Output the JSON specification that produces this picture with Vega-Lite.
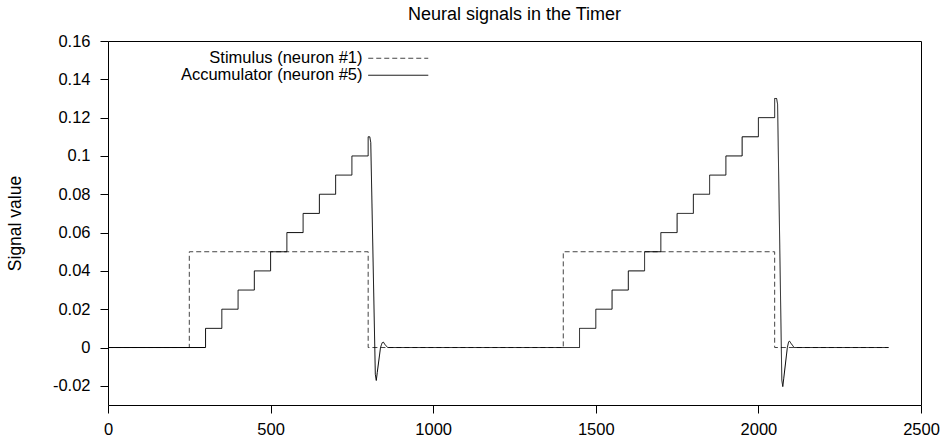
{
  "$schema": "https://vega.github.io/schema/vega-lite/v6.json",
  "width": 813,
  "height": 364,
  "autosize": {"type": "none"},
  "padding": {"left": 108, "top": 41, "right": 26, "bottom": 34},
  "background": "white",
  "title": {"text": "Neural signals in the Timer", "font": "Liberation Sans", "fontSize": 18, "fontWeight": "normal", "color": "black", "offset": 9},
  "config": {
    "view": {"stroke": "black", "strokeWidth": 1},
    "axis": {"grid": false, "domain": false, "tickColor": "black", "tickSize": 8, "labelFont": "Liberation Sans", "labelFontSize": 16.5, "labelColor": "black", "titleFont": "Liberation Sans", "titleFontSize": 17.5, "titleFontWeight": "normal", "titleColor": "black"},
    "legend": {"labelFont": "Liberation Sans", "labelFontSize": 16.5, "labelColor": "black"}
  },
  "data": {"values": [
    {"s":"S","i":0,"x":0,"y":0},
    {"s":"S","i":1,"x":250,"y":0},
    {"s":"S","i":2,"x":250,"y":0.05},
    {"s":"S","i":3,"x":800,"y":0.05},
    {"s":"S","i":4,"x":800,"y":0},
    {"s":"S","i":5,"x":1400,"y":0},
    {"s":"S","i":6,"x":1400,"y":0.05},
    {"s":"S","i":7,"x":2050,"y":0.05},
    {"s":"S","i":8,"x":2050,"y":0},
    {"s":"S","i":9,"x":2400,"y":0},
    {"s":"A","i":0,"x":0,"y":0},
    {"s":"A","i":1,"x":300,"y":0},
    {"s":"A","i":2,"x":300,"y":0.01},
    {"s":"A","i":3,"x":350,"y":0.01},
    {"s":"A","i":4,"x":350,"y":0.02},
    {"s":"A","i":5,"x":400,"y":0.02},
    {"s":"A","i":6,"x":400,"y":0.03},
    {"s":"A","i":7,"x":450,"y":0.03},
    {"s":"A","i":8,"x":450,"y":0.04},
    {"s":"A","i":9,"x":500,"y":0.04},
    {"s":"A","i":10,"x":500,"y":0.05},
    {"s":"A","i":11,"x":550,"y":0.05},
    {"s":"A","i":12,"x":550,"y":0.06},
    {"s":"A","i":13,"x":600,"y":0.06},
    {"s":"A","i":14,"x":600,"y":0.07},
    {"s":"A","i":15,"x":650,"y":0.07},
    {"s":"A","i":16,"x":650,"y":0.08},
    {"s":"A","i":17,"x":700,"y":0.08},
    {"s":"A","i":18,"x":700,"y":0.09},
    {"s":"A","i":19,"x":750,"y":0.09},
    {"s":"A","i":20,"x":750,"y":0.1},
    {"s":"A","i":21,"x":800,"y":0.1},
    {"s":"A","i":22,"x":800,"y":0.11},
    {"s":"A","i":23,"x":805,"y":0.11},
    {"s":"A","i":24,"x":808,"y":0.107},
    {"s":"A","i":25,"x":822,"y":-0.014},
    {"s":"A","i":26,"x":825,"y":-0.0172},
    {"s":"A","i":27,"x":828,"y":-0.013},
    {"s":"A","i":28,"x":838,"y":0},
    {"s":"A","i":29,"x":843,"y":0.0025},
    {"s":"A","i":30,"x":847,"y":0.0028},
    {"s":"A","i":31,"x":852,"y":0.0015},
    {"s":"A","i":32,"x":860,"y":0},
    {"s":"A","i":33,"x":1450,"y":0},
    {"s":"A","i":34,"x":1450,"y":0.01},
    {"s":"A","i":35,"x":1500,"y":0.01},
    {"s":"A","i":36,"x":1500,"y":0.02},
    {"s":"A","i":37,"x":1550,"y":0.02},
    {"s":"A","i":38,"x":1550,"y":0.03},
    {"s":"A","i":39,"x":1600,"y":0.03},
    {"s":"A","i":40,"x":1600,"y":0.04},
    {"s":"A","i":41,"x":1650,"y":0.04},
    {"s":"A","i":42,"x":1650,"y":0.05},
    {"s":"A","i":43,"x":1700,"y":0.05},
    {"s":"A","i":44,"x":1700,"y":0.06},
    {"s":"A","i":45,"x":1750,"y":0.06},
    {"s":"A","i":46,"x":1750,"y":0.07},
    {"s":"A","i":47,"x":1800,"y":0.07},
    {"s":"A","i":48,"x":1800,"y":0.08},
    {"s":"A","i":49,"x":1850,"y":0.08},
    {"s":"A","i":50,"x":1850,"y":0.09},
    {"s":"A","i":51,"x":1900,"y":0.09},
    {"s":"A","i":52,"x":1900,"y":0.1},
    {"s":"A","i":53,"x":1950,"y":0.1},
    {"s":"A","i":54,"x":1950,"y":0.11},
    {"s":"A","i":55,"x":2000,"y":0.11},
    {"s":"A","i":56,"x":2000,"y":0.12},
    {"s":"A","i":57,"x":2050,"y":0.12},
    {"s":"A","i":58,"x":2050,"y":0.13},
    {"s":"A","i":59,"x":2056,"y":0.13},
    {"s":"A","i":60,"x":2059,"y":0.127},
    {"s":"A","i":61,"x":2072,"y":-0.017},
    {"s":"A","i":62,"x":2075,"y":-0.0204},
    {"s":"A","i":63,"x":2078,"y":-0.016},
    {"s":"A","i":64,"x":2089,"y":0},
    {"s":"A","i":65,"x":2093,"y":0.003},
    {"s":"A","i":66,"x":2096,"y":0.0033},
    {"s":"A","i":67,"x":2101,"y":0.002},
    {"s":"A","i":68,"x":2110,"y":0},
    {"s":"A","i":69,"x":2400,"y":0}
  ]},
  "mark": {"type": "line", "strokeWidth": 1},
  "encoding": {
    "x": {"field": "x", "type": "quantitative", "scale": {"domain": [0, 2500], "nice": false, "zero": false},
      "axis": {"values": [0, 500, 1000, 1500, 2000, 2500], "format": "d", "title": null, "labelPadding": 8, "labelFlush": false}},
    "y": {"field": "y", "type": "quantitative", "scale": {"domain": [-0.03, 0.16], "nice": false, "zero": false},
      "axis": {"values": [-0.02, 0, 0.02, 0.04, 0.06, 0.08, 0.1, 0.12, 0.14, 0.16], "title": "Signal value", "titlePadding": 28, "labelPadding": 10,
        "labelExpr": "datum.value < 0 ? '-' + format(-datum.value, '~g') : format(datum.value, '~g')"}},
    "color": {"field": "s", "type": "nominal", "scale": {"domain": ["S", "A"], "range": ["#444444", "#000000"]},
      "legend": {"orient": "none", "legendX": 282, "legendY": 9, "title": null, "padding": 0, "symbolType": "M -5 0 L 5 0", "symbolSize": 144, "symbolStrokeWidth": 1, "rowPadding": 0, "labelAlign": "right", "labelOffset": -44, "labelLimit": 400,
        "labelExpr": "datum.label == 'S' ? 'Stimulus (neuron #1)' : 'Accumulator (neuron #5)'"}},
    "strokeDash": {"field": "s", "type": "nominal", "scale": {"domain": ["S", "A"], "range": [[5, 3], [1, 0]]}},
    "order": {"field": "i", "type": "quantitative"}
  }
}
